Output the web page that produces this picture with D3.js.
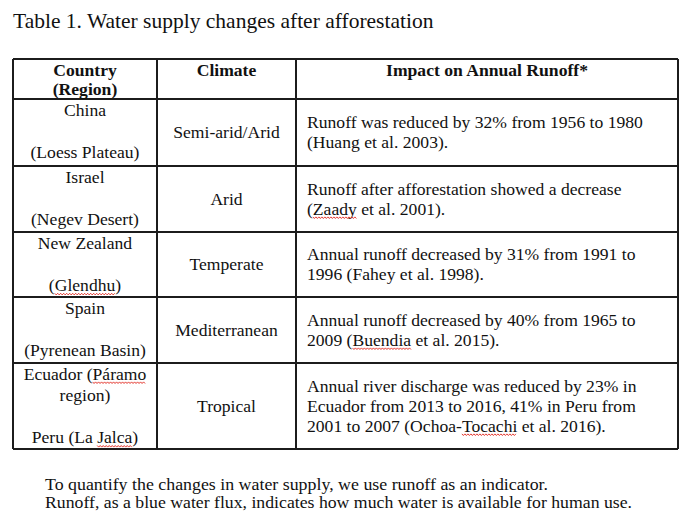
<!DOCTYPE html>
<html>
<head>
<meta charset="utf-8">
<script src="https://cdn.jsdelivr.net/npm/d3@7/dist/d3.min.js"></script>
<style>
  html, body { margin: 0; padding: 0; background: #fff; }
  svg { display: block; }
  text { font-family: "Liberation Serif", "Times New Roman", Times, serif; fill: #111; }
</style>
</head>
<body>
<script>
// ---------------- data ----------------
const title = "Table 1. Water supply changes after afforestation";
const headers = [["Country", "(Region)"], ["Climate"], ["Impact on Annual Runoff*"]];
const countries = [
  ["China", "", "(Loess Plateau)"],
  ["Israel", "", "(Negev Desert)"],
  ["New Zealand", "", "(Glendhu)"],
  ["Spain", "", "(Pyrenean Basin)"],
  ["Ecuador (Páramo", "region)", "", "Peru (La Jalca)"]
];
const climates = ["Semi-arid/Arid", "Arid", "Temperate", "Mediterranean", "Tropical"];
const impacts = [
  ["Runoff was reduced by 32% from 1956 to 1980", "(Huang et al. 2003)."],
  ["Runoff after afforestation showed a decrease", "(Zaady et al. 2001)."],
  ["Annual runoff decreased by 31% from 1991 to", "1996 (Fahey et al. 1998)."],
  ["Annual runoff decreased by 40% from 1965 to", "2009 (Buendia et al. 2015)."],
  ["Annual river discharge was reduced by 23% in", "Ecuador from 2013 to 2016, 41% in Peru from", "2001 to 2007 (Ochoa-Tocachi et al. 2016)."]
];
const notes = [
  "To quantify the changes in water supply, we use runoff as an indicator.",
  "Runoff, as a blue water flux, indicates how much water is available for human use."
];
const flaggedWords = ["Zaady", "Glendhu", "Buendia", "Páramo", "Jalca", "Tocachi"];

// ---------------- layout ----------------
const W = 700, H = 525;
const tableLeft = 13, tableTop = 59;
const colWidths = [144, 139, 382];
const rowHeights = [40, 67, 66, 65, 66, 86];
const colEdges = [tableLeft, ...Array.from(d3.cumsum(colWidths), d => tableLeft + d)];
const rowEdges = [tableTop, ...Array.from(d3.cumsum(rowHeights), d => tableTop + d)];

const colX = d3.scaleOrdinal().domain(d3.range(colEdges.length)).range(colEdges);
const rowY = d3.scaleOrdinal().domain(d3.range(rowEdges.length)).range(rowEdges);

const bodySize = 17.6;
const svg = d3.select("body").append("svg").attr("width", W).attr("height", H);

// title
svg.append("text").attr("x", 13).attr("y", 27.5)
  .style("font-size", "21.5px").text(title);

// grid lines
const grid = svg.append("g").attr("stroke", "#1c1c1c").attr("stroke-width", 1.6).attr("shape-rendering", "crispEdges");
grid.selectAll("line.h").data(d3.range(rowEdges.length)).join("line")
  .attr("class", "h")
  .attr("x1", colX(0)).attr("x2", colX(colEdges.length - 1))
  .attr("y1", d => rowY(d)).attr("y2", d => rowY(d));
grid.selectAll("line.v").data(d3.range(colEdges.length)).join("line")
  .attr("class", "v")
  .attr("y1", rowY(0)).attr("y2", rowY(rowEdges.length - 1))
  .attr("x1", d => colX(d)).attr("x2", d => colX(d));

const colCenter = i => (colX(i) + colX(i + 1)) / 2;

// header
const hdr = svg.append("g").style("font-weight", "bold").style("font-size", bodySize + "px");
headers.forEach((lines, ci) => {
  const t = hdr.append("text").attr("x", colCenter(ci)).attr("y", rowY(0) + 17).attr("text-anchor", "middle");
  lines.forEach((ln, li) => {
    t.append("tspan").attr("x", colCenter(ci)).attr("dy", li === 0 ? 0 : 18.5).text(ln);
  });
});

const textNodes = [];
const body = svg.append("g").style("font-size", bodySize + "px");
// country column
countries.forEach((lines, ri) => {
  const top = rowY(ri + 1);
  lines.forEach((ln, li) => {
    if (!ln) return;
    const t = body.append("text").attr("x", colCenter(0)).attr("y", top + 16.5 + li * 21.2)
      .attr("text-anchor", "middle").text(ln);
    textNodes.push(t);
  });
});
// climate column
climates.forEach((c, ri) => {
  const mid = (rowY(ri + 1) + rowY(ri + 2)) / 2;
  body.append("text").attr("x", colCenter(1)).attr("y", mid + 5.5)
    .attr("text-anchor", "middle").text(c);
});
// impact column
impacts.forEach((lines, ri) => {
  const mid = (rowY(ri + 1) + rowY(ri + 2)) / 2;
  lines.forEach((ln, li) => {
    const t = body.append("text").attr("x", colX(2) + 11)
      .attr("y", mid + 5.5 + (li - (lines.length - 1) / 2) * 20).text(ln);
    textNodes.push(t);
  });
});

// notes (tight leading, slightly condensed type as in the reference)
const noteWidths = [503, 587];
notes.forEach((n, i) => {
  svg.append("text").attr("x", 45).attr("y", 490 + i * 17.5)
    .style("font-size", "15.8px")
    .attr("textLength", noteWidths[i]).attr("lengthAdjust", "spacingAndGlyphs")
    .text(n);
});

// spell-check style wavy underlines
const wave = svg.append("g").attr("fill", "none").attr("stroke", "#e0241b").attr("stroke-width", 0.9);
textNodes.forEach(t => {
  const node = t.node();
  const str = node.textContent;
  flaggedWords.forEach(w => {
    const idx = str.indexOf(w);
    if (idx < 0) return;
    const x0 = node.getStartPositionOfChar(idx).x;
    const x1 = node.getEndPositionOfChar(idx + w.length - 1).x;
    const yb = +t.attr("y") + 3;
    const pts = d3.range(x0, x1 + 0.01, 1.5).map((px, k) => [px, yb + (k % 2 ? 1 : -0.6)]);
    wave.append("path").attr("d", d3.line()(pts));
  });
});
</script>
</body>
</html>
